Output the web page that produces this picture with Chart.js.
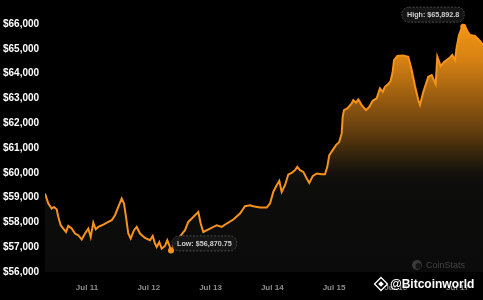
<!DOCTYPE html>
<html>
<head>
<meta charset="utf-8">
<script src="https://cdn.jsdelivr.net/npm/chart.js@4.4.1/dist/chart.umd.min.js"></script>
<style>
html,body{margin:0;padding:0;background:#000;}
canvas{display:block;}
</style>
</head>
<body>
<canvas id="c" width="483" height="300"></canvas>
<script>
// Hours relative to Jul 11 00:00
const hours = [-16.32,-15.04,-13.72,-12.83,-11.78,-11.15,-10.22,-9.21,-8.16,-7.27,-5.95,-4.66,-3.38,-2.06,-0.78,0.51,1.44,2.45,3.38,4.39,6.34,8.28,9.60,10.88,12.16,13.49,14.38,15.16,16.05,16.98,18.27,19.32,20.60,22.54,24.49,25.54,26.43,27.09,28.10,29.03,30.32,31.21,31.99,32.65,34.20,36.14,38.09,39.37,41.31,43.26,44.19,45.20,47.80,50.41,52.35,54.30,56.86,59.46,61.41,63.35,64.63,67.24,69.84,71.12,72.41,73.73,74.74,75.67,76.96,78.24,79.56,80.84,81.74,82.78,84.07,85.39,86.40,87.72,89.27,91.22,92.50,93.39,94.17,95.49,96.77,98.06,98.99,99.38,99.88,101.17,102.88,103.50,104.55,105.44,106.76,108.43,109.72,111.04,112.59,113.21,113.87,114.92,115.82,117.10,118.03,118.81,119.32,120.60,122.81,124.87,126.20,127.48,128.76,129.42,130.70,132.65,133.97,135.52,136.15,137.47,138.87,141.08,141.97,143.02,143.68,144.58,145.63,146.25,147.18,147.81,148.85,150.80,152.74,153.91];
const prices = [59165,58762,58560,58624,58532,58221,57886,57752,57615,57857,57752,57551,57482,57308,57551,57752,57413,57995,57724,57817,57914,58019,58087,58289,58624,58964,58762,58221,57551,57349,57684,57817,57551,57373,57280,57454,57147,57010,57211,56945,57050,57280,57078,56870.75,57159,57442,57684,58019,58221,58423,57954,57615,57752,57886,57817,57954,58116,58358,58653,58693,58653,58600,58600,58762,59230,59500,59674,59230,59500,59932,59997,60106,60239,60106,60037,59771,59593,59864,59973,59944,59944,60239,60712,60913,61115,61248,61588,62258,62528,62597,62799,62932,62823,62960,62730,62528,62661,62904,63001,63202,63404,63267,63469,63578,63711,64074,64547,64708,64728,64680,64143,63497,62932,62730,63255,63873,63941,63578,64680,64304,64478,64648,64749,64547,65071,65556,65839,65892.8,65859,65717,65556,65516,65314,65152];
const dayTicks = [0,24,48,72,96,120,144];
const dayLabels = ['Jul 11','Jul 12','Jul 13','Jul 14','Jul 15','Jul 16','Jul 17'];
const yTicks = [56000,57000,58000,59000,60000,61000,62000,63000,64000,65000,66000];
const lowLabel = 'Low: $56,870.75';
const highLabel = 'High: $65,892.8';

const lowIdx = prices.indexOf(Math.min(...prices));
const highIdx = prices.indexOf(Math.max(...prices));

function roundRect(c, x, y, w, h, r){
  c.beginPath();
  c.moveTo(x+r,y);
  c.lineTo(x+w-r,y); c.arcTo(x+w,y,x+w,y+r,r);
  c.lineTo(x+w,y+h-r); c.arcTo(x+w,y+h,x+w-r,y+h,r);
  c.lineTo(x+r,y+h); c.arcTo(x,y+h,x,y+h-r,r);
  c.lineTo(x,y+r); c.arcTo(x,y,x+r,y,r);
  c.closePath();
}

const overlay = {
  id:'overlay',
  afterDatasetsDraw(chart){
    const c = chart.ctx;
    const xs = chart.scales.x, ys = chart.scales.y;
    c.save();
    [lowIdx, highIdx].forEach(i=>{
      c.beginPath();
      c.arc(xs.getPixelForValue(hours[i]), ys.getPixelForValue(prices[i]), 3, 0, Math.PI*2);
      c.fillStyle = '#f7931a'; c.fill();
    });
    c.font = 'bold 7.2px "Liberation Sans", Arial, sans-serif';
    c.textBaseline = 'middle';
    function box(text, x, y, align){
      const w = c.measureText(text).width + 10, h = 15;
      const bx = align==='right' ? x - w : x;
      roundRect(c, bx, y - h/2, w, h, 7);
      c.fillStyle = 'rgba(22,22,22,0.95)'; c.fill();
      c.setLineDash([2,1.5]); c.strokeStyle = '#4a4a4a'; c.lineWidth = 1; c.stroke();
      c.setLineDash([]);
      c.fillStyle = '#cfcfcf'; c.textAlign = 'left';
      c.fillText(text, bx + 5, y + 0.5);
    }
    const lx = xs.getPixelForValue(hours[lowIdx]), ly = ys.getPixelForValue(prices[lowIdx]);
    box(lowLabel, lx + 1, ly - 7, 'left');
    const hx = xs.getPixelForValue(hours[highIdx]), hy = ys.getPixelForValue(prices[highIdx]);
    box(highLabel, hx + 1, hy - 12, 'right');
    c.restore();
  },
  afterDraw(chart){
    const c = chart.ctx;
    c.save();
    c.beginPath(); c.arc(417, 265, 5, 0, Math.PI*2); c.fillStyle = '#3a3a3a'; c.fill();
    c.beginPath(); c.arc(418.5, 266, 3, 0, Math.PI*2); c.fillStyle = '#151515'; c.fill();
    c.font = '9px "Liberation Sans", Arial, sans-serif';
    c.fillStyle = '#444444'; c.textBaseline = 'middle'; c.textAlign = 'left';
    c.fillText('CoinStats', 426, 265.5);
    const cx = 381, cy = 284;
    c.fillStyle = '#ffffff';
    c.strokeStyle = '#ffffff';
    c.lineWidth = 1.3;
    c.beginPath(); c.moveTo(cx, cy-6.5); c.lineTo(cx+6.5, cy); c.lineTo(cx, cy+6.5); c.lineTo(cx-6.5, cy); c.closePath(); c.stroke();
    c.beginPath(); c.moveTo(cx, cy-2.8); c.lineTo(cx+2.8, cy); c.lineTo(cx, cy+2.8); c.lineTo(cx-2.8, cy); c.closePath(); c.fill();
    c.font = 'bold 12px "Liberation Sans", Arial, sans-serif';
    c.fillStyle = '#ffffff';
    c.shadowColor = 'rgba(0,0,0,0.8)'; c.shadowBlur = 2;
    c.fillText('@Bitcoinworld', 390, 284.5);
    c.restore();
  }
};

new Chart(document.getElementById('c'), {
  type:'line',
  data:{
    datasets:[{
      data: hours.map((h,i)=>({x:h, y:prices[i]})),
      borderColor:'#f7931a',
      borderWidth:2,
      pointRadius:0,
      tension:0,
      fill:'start',
      backgroundColor:(ctx)=>{
        const {chart} = ctx; const area = chart.chartArea;
        if(!area) return 'rgba(0,0,0,0)';
        const g = chart.ctx.createLinearGradient(0, area.top, 0, area.bottom);
        g.addColorStop(0, 'rgb(245,150,20)');
        g.addColorStop(0.15, 'rgb(212,128,18)');
        g.addColorStop(0.3, 'rgb(152,92,16)');
        g.addColorStop(0.43, 'rgb(100,62,14)');
        g.addColorStop(0.52, 'rgb(55,38,12)');
        g.addColorStop(0.6, 'rgb(20,17,12)');
        g.addColorStop(0.65, 'rgb(13,13,12)');
        g.addColorStop(1, 'rgb(11,11,11)');
        return g;
      }
    }]
  },
  options:{
    responsive:false,
    animation:false,
    layout:{padding:{top:24,left:3,right:0,bottom:0}},
    plugins:{legend:{display:false},tooltip:{enabled:false}},
    scales:{
      x:{
        type:'linear',
        min:hours[0], max:hours[hours.length-1],
        grid:{display:false, drawTicks:false},
        border:{display:false},
        afterBuildTicks:(s)=>{ s.ticks = dayTicks.map(v=>({value:v})); },
        afterFit:(s)=>{ s.height = 28; },
        ticks:{
          autoSkip:false, maxRotation:0, padding:11,
          color:'#8c8c8c',
          font:{family:'"Liberation Sans", Arial, sans-serif', size:8, weight:'bold'},
          callback:(v)=>{ const i = dayTicks.indexOf(v); return i>=0 ? dayLabels[i] : ''; }
        }
      },
      y:{
        min:56000, max:66000,
        grid:{display:false, drawTicks:false},
        border:{display:false},
        afterBuildTicks:(s)=>{ s.ticks = yTicks.map(v=>({value:v})); },
        afterFit:(s)=>{ s.width = 42; },
        ticks:{
          crossAlign:'far', padding:0,
          color:'#ffffff',
          font:{family:'"Liberation Sans", Arial, sans-serif', size:10, weight:'bold'},
          callback:(v)=>'$' + v.toLocaleString('en-US')
        }
      }
    }
  },
  plugins:[overlay]
});
</script>
</body>
</html>
